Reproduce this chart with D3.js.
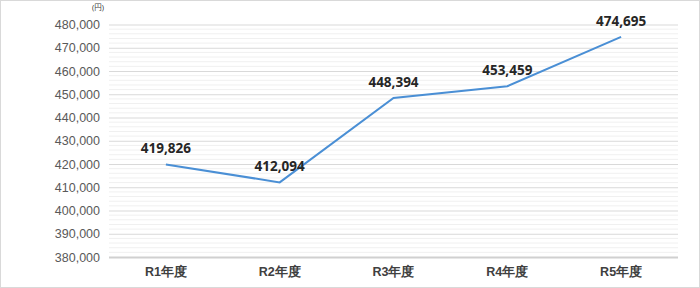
<!DOCTYPE html>
<html>
<head>
<meta charset="utf-8">
<script src="https://cdn.jsdelivr.net/npm/d3@7"></script>
<style>
  body { margin: 0; background: #fff; }
  svg { display: block; font-family: "Noto Sans", "Noto Sans CJK JP", sans-serif; }
</style>
</head>
<body>
<svg id="chart" width="700" height="288"></svg>
<script>
var years = ["R1年度", "R2年度", "R3年度", "R4年度", "R5年度"];
var amounts = [419826, 412094, 448394, 453459, 474695];
var yTicks = [380000, 390000, 400000, 410000, 420000, 430000, 440000, 450000, 460000, 470000, 480000];
var unitLabel = "(円)";

var svg = d3.select("#chart");
// plot area edges (top is reserved on window, so use plotTop)
var plotLeft = 109, plotRight = 678, plotTop = 24.5, plotBottom = 257;

// outer frame
svg.append("rect")
    .attr("x", 0.5).attr("y", 0.5)
    .attr("width", 699).attr("height", 287)
    .attr("fill", "#fff").attr("stroke", "#d9d9d9");

var x = d3.scaleBand().domain(years).range([plotLeft, plotRight]);
var y = d3.scaleLinear().domain([380000, 480000]).range([plotBottom, plotTop]);

// minor gridlines every 2,000
var minor = d3.range(380000, 480001, 2000).filter(function(v) { return v % 10000 != 0; });
svg.append("g").selectAll("line")
    .data(minor)
    .enter()
    .append("line")
    .attr("x1", plotLeft).attr("x2", plotRight)
    .attr("y1", function(d) { return y(d); })
    .attr("y2", function(d) { return y(d); })
    .attr("stroke", "#f0f0f0").attr("stroke-width", 1);

// major gridlines + labels
var yAxis = d3.axisLeft(y).tickValues(yTicks)
    .tickSize(-(plotRight - plotLeft)).tickPadding(9)
    .tickFormat(d3.format(","));
var gy = svg.append("g").attr("transform", "translate(" + plotLeft + ",0)").call(yAxis);
gy.select(".domain").remove();
gy.selectAll(".tick line").attr("stroke", "#d9d9d9").attr("stroke-width", 1.2);
gy.selectAll(".tick text").attr("fill", "#595959").attr("font-size", 12.5);
gy.selectAll(".tick").filter(function(d) { return d == 380000; })
    .select("line").attr("stroke", "#d0d0d0").attr("stroke-width", 2);

svg.append("text")
    .attr("x", 104).attr("y", 10)
    .attr("text-anchor", "end")
    .attr("font-size", 7.5).attr("fill", "#404040")
    .text(unitLabel);

// category axis
var xAxis = d3.axisBottom(x).tickSize(0).tickPadding(10);
var gx = svg.append("g").attr("transform", "translate(0," + plotBottom + ")").call(xAxis);
gx.select(".domain").remove();
gx.selectAll(".tick text").attr("fill", "#404040").attr("font-size", 12.5).attr("font-weight", "bold");

// line
var line = d3.line()
    .x(function(d, i) { return x(years[i]) + x.bandwidth() / 2; })
    .y(function(d) { return y(d); });
svg.append("path")
    .datum(amounts)
    .attr("d", line)
    .attr("fill", "none")
    .attr("stroke", "#4a8fd5")
    .attr("stroke-width", 2);

// data labels
svg.append("g").selectAll("text")
    .data(amounts)
    .enter()
    .append("text")
    .attr("x", function(d, i) { return x(years[i]) + x.bandwidth() / 2; })
    .attr("y", function(d) { return y(d) - 11; })
    .attr("text-anchor", "middle")
    .attr("font-size", 13.5).attr("font-weight", "bold")
    .attr("fill", "#262626")
    .text(function(d) { return d3.format(",")(d); });
</script>
</body>
</html>
